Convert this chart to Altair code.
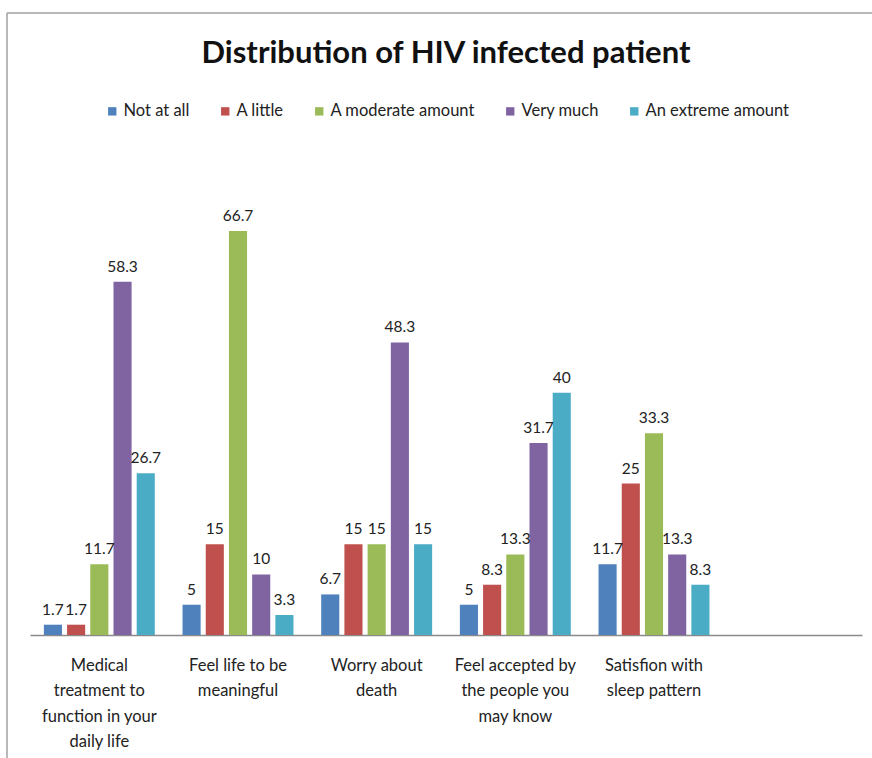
import altair as alt
import pandas as pd

# Question categories (line breaks marked with "|")
categories = [
    "Medical|treatment to|function in your|daily life",
    "Feel life to be|meaningful",
    "Worry about|death",
    "Feel accepted by|the people you|may know",
    "Satisfion with|sleep pattern",
]
responses = ["Not at all", "A little", "A moderate amount", "Very much", "An extreme amount"]
colors = ["#4F81BD", "#C0504D", "#9BBB59", "#8064A2", "#4BACC6"]

# Percentages per response level, one value per category
not_at_all = [1.7, 5, 6.7, 5, 11.7]
a_little = [1.7, 15, 15, 8.3, 25]
moderate = [11.7, 66.7, 15, 13.3, 33.3]
very_much = [58.3, 10, 48.3, 31.7, 13.3]
extreme = [26.7, 3.3, 15, 40, 8.3]

series = [not_at_all, a_little, moderate, very_much, extreme]
rows = []
for resp, vals in zip(responses, series):
    for cat, v in zip(categories, vals):
        rows.append({"category": cat, "response": resp, "value": v})
df = pd.DataFrame(rows)

FONT = "Lato"
x_domain = categories + [" "]

x_enc = alt.X(
    "category:N",
    sort=x_domain,
    scale=alt.Scale(domain=x_domain, paddingInner=0.2, paddingOuter=0.1),
    axis=alt.Axis(
        title=None,
        labelAngle=0,
        labelExpr="split(datum.label, '|')",
        labelFont=FONT,
        labelFontSize=16.5,
        labelColor="#222222",
        labelLineHeight=25.5,
        labelPadding=22,
        ticks=False,
        domainColor="#8a8a8a",
        domainWidth=1.5,
        grid=False,
    ),
)
xoff = alt.XOffset(
    "response:N",
    sort=responses,
    scale=alt.Scale(domain=responses, paddingInner=0.22),
)
y_enc = alt.Y("value:Q", scale=alt.Scale(domain=[0, 70]), axis=None)

bars = alt.Chart(df).mark_bar().encode(
    x=x_enc,
    xOffset=xoff,
    y=y_enc,
    color=alt.Color(
        "response:N",
        sort=responses,
        scale=alt.Scale(domain=responses, range=colors),
        legend=alt.Legend(
            title=None,
            orient="none",
            direction="horizontal",
            legendX=74,
            legendY=-108,
            symbolType="square",
            symbolSize=70,
            symbolStrokeWidth=0,
            labelFont=FONT,
            labelFontSize=16.5,
            labelColor="#222222",
            columnPadding=27,
            labelOffset=3,
        ),
    ),
)

labels = alt.Chart(df).mark_text(
    baseline="bottom", dy=-7, font=FONT, fontSize=15.5, color="#222222"
).encode(
    x=x_enc,
    xOffset=xoff,
    y=y_enc,
    text=alt.Text("value:Q"),
)

# Chart-area frame (top and left edges)
frame_top = alt.Chart().mark_rule(color="#a0a0a0", strokeWidth=1.5).encode(
    x=alt.value(-23), x2=alt.value(842), y=alt.value(-198)
)
frame_left = alt.Chart().mark_rule(color="#a0a0a0", strokeWidth=1.5).encode(
    x=alt.value(-23), y=alt.value(-198), y2=alt.value(560)
)

chart = (
    alt.layer(bars, labels, frame_top, frame_left)
    .properties(
        width=832,
        height=424,
        autosize=alt.AutoSizeParams(type="none"),
        padding={"left": 30, "top": 211, "right": 10, "bottom": 123},
        title=alt.TitleParams(
            "Distribution of HIV infected patient",
            font=FONT,
            fontSize=31,
            fontWeight="bold",
            color="#111111",
            anchor="middle",
            offset=-58,
        ),
    )
    .configure_view(stroke=None)
)

chart.save("out.html", embed_options={"renderer": "svg", "actions": False})
